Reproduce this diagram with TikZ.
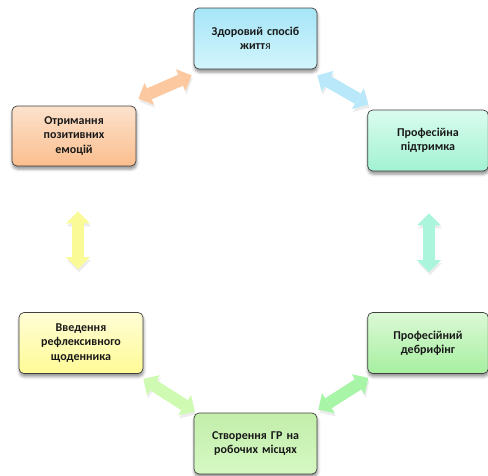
\documentclass[tikz,border=0pt]{standalone}
\usepackage{fontspec}
\setmainfont{Carlito}
\usetikzlibrary{shapes,arrows.meta,positioning,shadows.blur}
\definecolor{boxline}{HTML}{404040}
\definecolor{bluetop}{HTML}{A6E5F7}
\definecolor{bluebot}{HTML}{D2F5FC}
\definecolor{minttop}{HTML}{DAFCEE}
\definecolor{mintbot}{HTML}{A2F2D3}
\definecolor{greentop}{HTML}{DCF9D6}
\definecolor{greenbot}{HTML}{A6EFA0}
\definecolor{limetop}{HTML}{C2EEAA}
\definecolor{limebot}{HTML}{D6F8C4}
\definecolor{yellowtop}{HTML}{FFFDD6}
\definecolor{yellowbot}{HTML}{FFFB96}
\definecolor{peachtop}{HTML}{FCE2CC}
\definecolor{peachbot}{HTML}{FBBE8E}
\tikzstyle{box} = [draw=boxline, line width=0.7pt, rounded corners=5pt, minimum width=123pt, minimum height=61pt, text width=114pt, align=center, text=black!90, font=\bfseries\fontsize{12}{14.5}\selectfont, blur shadow={shadow xshift=0.5pt, shadow yshift=-3pt, shadow blur radius=3pt, shadow opacity=45}]
\tikzstyle{fatarrow} = [line width=12pt, {Triangle[width=24pt,length=12pt,line width=0pt]}-{Triangle[width=24pt,length=12pt,line width=0pt]}, preaction={draw=black!60, opacity=0.12, transform canvas={shift={(1pt,-3pt)}}}]

\begin{document}
\begin{tikzpicture}[x=1pt, y=-1pt]
	\useasboundingbox (0,0) rectangle (488,475);

	\node [box, top color=bluetop, bottom color=bluebot] (health) at (255.5,38.5) {Здоровий спосіб\\житт{\mdseries я}};
	\node [box, minimum width=118pt, top color=minttop, bottom color=mintbot] (support) at (428,140.5) {Професійна\\підтримка};
	\node [box, minimum width=124pt, minimum height=60pt, top color=peachtop, bottom color=peachbot] (emotions) at (74,136) {Отримання\\позитивних\\емоцій};
	\node [box, minimum width=118pt, top color=greentop, bottom color=greenbot] (debrief) at (428,343) {Професійний\\дебрифінг};
	\node [box, minimum width=124pt, top color=yellowtop, bottom color=yellowbot] (diary) at (81,343) {Введення\\рефлексивного\\щоденника};
	\node [box, top color=limetop, bottom color=limebot] (groups) at (255.5,443.5) {Створення ГР на\\робочих місцях};

	\path [fatarrow, draw={rgb,255:red,252;green,200;blue,160}] ([shift={(2,-7)}]emotions.north east) -- ([shift={(-2,6)}]health.south west);
	\path [fatarrow, draw={rgb,255:red,184;green,232;blue,250}] ([shift={(0,6)}]health.south east) -- ([shift={(1,-5)}]support.north west);
	\path [fatarrow, draw={rgb,255:red,170;green,245;blue,220}] ([shift={(1,42)}]support.south) -- ([shift={(1,-40)}]debrief.north);
	\path [fatarrow, draw={rgb,255:red,250;green,250;blue,150}] ([shift={(4,45)}]emotions.south) -- ([shift={(-3,-43)}]diary.north);
	\path [fatarrow, draw={rgb,255:red,206;green,250;blue,178}] ([shift={(0,5)}]diary.south east) -- ([shift={(1,-1)}]groups.north west);
	\path [fatarrow, draw={rgb,255:red,168;green,245;blue,168}] ([shift={(1,-3)}]groups.north east) -- ([shift={(1,4)}]debrief.south west);
\end{tikzpicture}
\end{document}
